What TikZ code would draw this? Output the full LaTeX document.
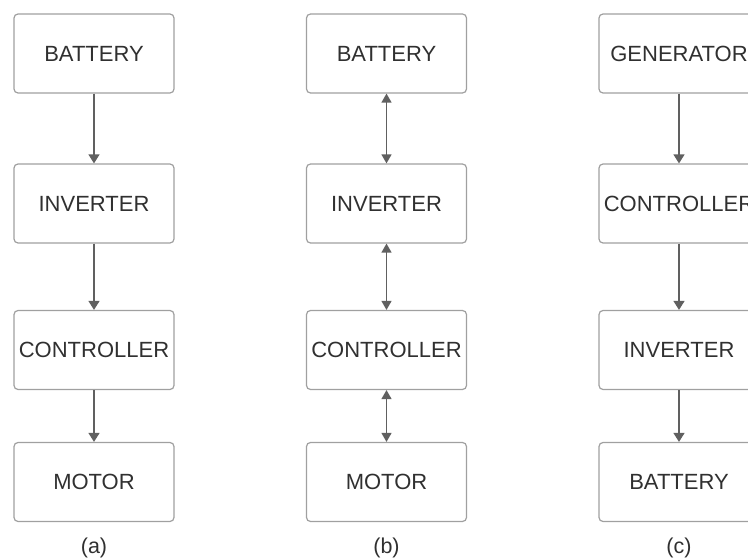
\documentclass[tikz,border=0pt]{standalone}
\usepackage{fontspec}
\setmainfont{Liberation Sans}
\usetikzlibrary{arrows.meta}
\definecolor{boxgray}{HTML}{A0A0A0}
\definecolor{arrgray}{HTML}{606060}
\definecolor{txtgray}{HTML}{303030}
\begin{document}
\begin{tikzpicture}[x=1pt,y=-1pt,
  blk/.style={draw=boxgray, line width=1.2pt, rounded corners=4pt, minimum width=160pt, minimum height=79pt, inner sep=0pt, text=txtgray, font=\fontsize{22}{24}\selectfont},
  lbl/.style={text=txtgray, inner sep=0pt, font=\fontsize{21.5}{24}\selectfont},
  conn/.style={draw=arrgray, line width=1.3pt, -{Triangle[length=9pt,width=11pt]}},
  bconn/.style={draw=arrgray, line width=1.3pt, {Triangle[length=9pt,width=10pt]}-{Triangle[length=9pt,width=10pt]}}]
\useasboundingbox (0,0) rectangle (748,559);
\clip (0,0) rectangle (748,559);
% column (a)
\node[blk] (a1) at (94,53.5) {BATTERY};
\node[blk] (a2) at (94,203.5) {INVERTER};
\node[blk] (a3) at (94,350) {CONTROLLER};
\node[blk] (a4) at (94,482) {MOTOR};
\node[lbl] (la) at (94,548) {(a)};
\draw[conn] (a1) -- (a2);
\draw[conn] (a2) -- (a3);
\draw[conn] (a3) -- (a4);
% column (b)
\node[blk] (b1) at (386.5,53.5) {BATTERY};
\node[blk] (b2) at (386.5,203.5) {INVERTER};
\node[blk] (b3) at (386.5,350) {CONTROLLER};
\node[blk] (b4) at (386.5,482) {MOTOR};
\node[lbl] (lb) at (386.5,548) {(b)};
\draw[bconn] (b1) -- (b2);
\draw[bconn] (b2) -- (b3);
\draw[bconn] (b3) -- (b4);
% column (c)
\node[blk] (c1) at (679,53.5) {GENERATOR};
\node[blk] (c2) at (679,203.5) {CONTROLLER};
\node[blk] (c3) at (679,350) {INVERTER};
\node[blk] (c4) at (679,482) {BATTERY};
\node[lbl] (lc) at (679,548) {(c)};
\draw[conn] (c1) -- (c2);
\draw[conn] (c2) -- (c3);
\draw[conn] (c3) -- (c4);
\end{tikzpicture}
\end{document}
